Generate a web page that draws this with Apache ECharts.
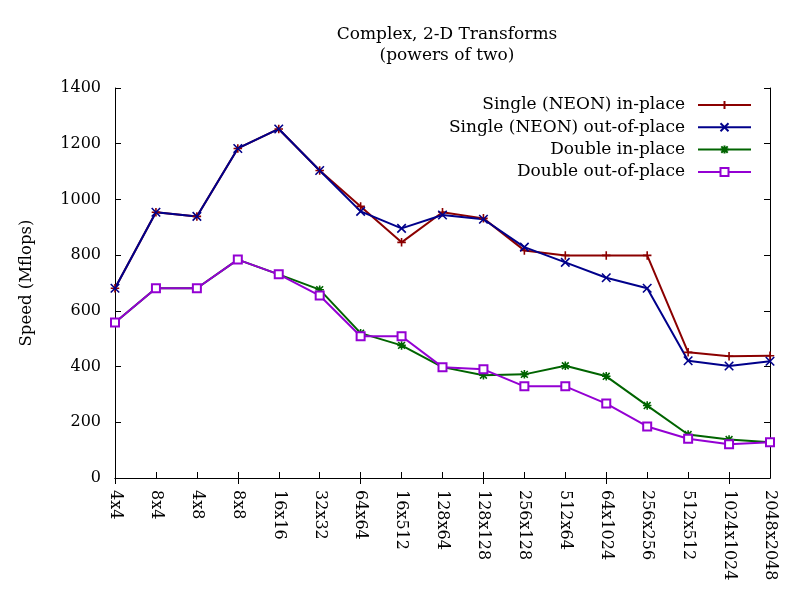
<!DOCTYPE html>
<html><head><meta charset="utf-8">
<script src="https://cdn.jsdelivr.net/npm/echarts@6/dist/echarts.min.js"></script>
<style>html,body{margin:0;padding:0;background:#fff}#c{width:800px;height:600px}</style>
</head><body><div id="c"></div>
<script>
const categories = ['4x4','8x4','4x8','8x8','16x16','32x32','64x64','16x512','128x64','128x128','256x128','512x64','64x1024','256x256','512x512','1024x1024','2048x2048'];
const singleInPlace = [681,954,939,1183,1253,1104,975,846,954,932,817,799,799,799,451,437,439];
const singleOutOfPlace = [681,954,939,1183,1253,1104,957,896,944,929,829,774,719,681,421,402,419];
const doubleInPlace = [558,681,681,784,731,676,520,476,398,369,372,403,365,260,156,138,128];
const doubleOutOfPlace = [558,681,681,784,731,655,509,509,398,390,329,329,267,185,141,121,128];
const seriesNames = ['Single (NEON) in-place','Single (NEON) out-of-place','Double in-place','Double out-of-place'];
const yTicks = {min:0, max:1400, interval:200};

const FONT = '"DejaVu Serif", serif';
const colors = ['#8b0000','#00008b','#006400','#9400d3'];
const symbols = [
  'path://M0,-5L0,5M-5,0L5,0',
  'path://M-5,-5L5,5M-5,5L5,-5',
  'path://M0,-5L0,5M-5,0L5,0M-4,-4L4,4M-4,4L4,-4',
  'emptyRect'
];
const datas = [singleInPlace, singleOutOfPlace, doubleInPlace, doubleOutOfPlace];

const chart = echarts.init(document.getElementById('c'), null, {renderer:'canvas'});
const tickStyle = {show:true, inside:true, length:6, lineStyle:{color:'#000', width:1}};
chart.setOption({
  animation:false,
  backgroundColor:'#fff',
  textStyle:{fontFamily:FONT, color:'#000'},
  title:{
    text:'Complex, 2-D Transforms\n(powers of two)',
    left:442, top:19, textAlign:'center',
    textStyle:{fontFamily:FONT, fontSize:17, fontWeight:'normal', color:'#000', lineHeight:21}
  },
  legend:{
    orient:'vertical', right:43, top:89, align:'right',
    itemWidth:53, itemHeight:10, itemGap:0.3,
    textStyle:{fontFamily:FONT, fontSize:17, color:'#000', lineHeight:22, padding:[0,8,0,0]},
    data:seriesNames
  },
  grid:{left:115, right:30, top:88, bottom:122},
  xAxis:[{
    type:'category', data:categories, boundaryGap:false,
    axisLine:{show:true, lineStyle:{color:'#000', width:1}},
    axisTick:Object.assign({alignWithLabel:true}, tickStyle),
    axisLabel:{rotate:-90, margin:12, fontFamily:FONT, fontSize:16, color:'#000', interval:0},
    splitLine:{show:false}
  },{
    type:'category', data:categories, boundaryGap:false, position:'top',
    axisLine:{show:true, lineStyle:{color:'#000', width:1}},
    axisTick:Object.assign({alignWithLabel:true}, tickStyle),
    axisLabel:{show:false}, splitLine:{show:false}
  }],
  yAxis:[{
    type:'value', min:yTicks.min, max:yTicks.max, interval:yTicks.interval,
    name:'Speed (Mflops)', nameLocation:'middle', nameGap:80, nameRotate:90,
    nameTextStyle:{fontFamily:FONT, fontSize:16.5, color:'#000'},
    axisLine:{show:true, lineStyle:{color:'#000', width:1}},
    axisTick:tickStyle,
    axisLabel:{margin:14, fontFamily:FONT, fontSize:16, color:'#000', formatter:v=>String(v)},
    splitLine:{show:false}
  },{
    type:'value', min:yTicks.min, max:yTicks.max, interval:yTicks.interval, position:'right',
    axisLine:{show:true, lineStyle:{color:'#000', width:1}},
    axisTick:tickStyle, axisLabel:{show:false}, splitLine:{show:false}
  }],
  series:datas.map((d,i)=>({
    name:seriesNames[i], type:'line', data:d,
    symbol:symbols[i], symbolSize:i===3?8:8.5, showAllSymbol:true,
    lineStyle:{color:colors[i], width:2},
    itemStyle:{color:colors[i], borderColor:colors[i], borderWidth:1.6},
    emphasis:{disabled:true}
  }))
});
</script></body></html>
